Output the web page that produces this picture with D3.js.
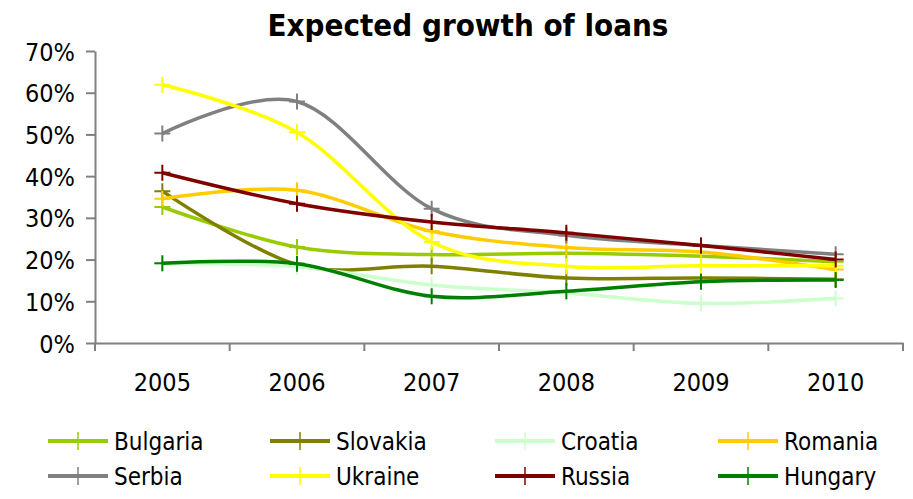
<!DOCTYPE html>
<html>
<head>
<meta charset="utf-8">
<script src="https://cdn.jsdelivr.net/npm/d3@7"></script>
<style>
  body { margin: 0; background: #fff; }
  text { font-family: "DejaVu Sans Condensed", "DejaVu Sans", sans-serif; font-stretch: condensed; }
</style>
</head>
<body>
<svg id="chart"></svg>
<script>
const width = 913;
const height = 499;
const margin = {left: 95, right: 10, top: 51, bottom: 156};

const years = ['2005', '2006', '2007', '2008', '2009', '2010'];
const countries = ['Bulgaria', 'Slovakia', 'Croatia', 'Romania', 'Serbia', 'Ukraine', 'Russia', 'Hungary'];
const colors = ['#99cc00', '#808000', '#ccffcc', '#ffcc00', '#808080', '#ffff00', '#800000', '#008000'];
const yTicks = [0, 10, 20, 30, 40, 50, 60, 70];

// percent values
const bulgaria = [32.6, 23.0, 21.2, 21.5, 20.8, 19.5];
const slovakia = [36.4, 18.8, 18.4, 15.6, 15.6, 15.3];
const croatia  = [19.0, 18.3, 13.9, 12.0, 9.5, 10.7];
const romania  = [34.6, 36.6, 26.8, 22.9, 21.8, 17.6];
const serbia   = [50.2, 57.9, 32.2, 25.8, 23.4, 21.3];
const ukraine  = [61.9, 50.5, 24.2, 18.4, 18.5, 18.5];
const russia   = [40.8, 33.4, 29.0, 26.4, 23.4, 20.0];
const hungary  = [19.1, 19.0, 11.2, 12.4, 14.7, 15.1];
const series = [bulgaria, slovakia, croatia, romania, serbia, ukraine, russia, hungary];

const svg = d3.select('#chart')
    .attr('width', width)
    .attr('height', height);

const x = d3.scaleBand()
    .domain(years)
    .range([margin.left, width - margin.right])
    .paddingInner(0)
    .paddingOuter(0);

const y = d3.scaleLinear()
    .domain([0, 70])
    .range([height - margin.bottom, margin.top]);

const cx = d => x(d) + x.bandwidth() / 2;

// title
svg.append('text')
    .attr('x', 468)
    .attr('y', 36)
    .attr('text-anchor', 'middle')
    .style('font-size', '31px')
    .style('font-weight', 'bold')
    .text('Expected growth of loans');

// y axis
const yAxis = svg.append('g')
    .attr('transform', `translate(${margin.left},0)`)
    .call(d3.axisLeft(y).tickValues(yTicks).tickFormat(d => d + '%')
        .tickSize(9).tickSizeOuter(0).tickPadding(11));
yAxis.selectAll('text').style('font-size', '25px').attr('fill', '#000').attr('dy', '0.36em');

// x axis: labels centered in bands, ticks on band edges
const xAxis = svg.append('g')
    .attr('transform', `translate(0,${y(0)})`)
    .call(d3.axisBottom(x).tickSize(0).tickSizeOuter(0).tickPadding(30));
xAxis.selectAll('text').style('font-size', '25px').attr('fill', '#000');

const edges = years.map(d => x(d)).concat([x.range()[1]]);
xAxis.selectAll('.edge')
    .data(edges)
    .enter().append('line')
        .attr('class', 'edge')
        .attr('x1', d => d).attr('x2', d => d)
        .attr('y1', 0).attr('y2', 8);

svg.selectAll('.domain, .tick line, .edge')
    .attr('stroke', '#808080')
    .attr('stroke-width', 2);

// lines
const line = d3.line()
    .x((d, i) => cx(years[i]))
    .y(d => y(d))
    .curve(d3.curveCatmullRom.alpha(0));

const groups = svg.selectAll('.series')
    .data(series)
    .enter().append('g')
        .attr('class', 'series');

groups.append('path')
    .attr('d', d => line(d))
    .attr('fill', 'none')
    .attr('stroke', (d, i) => colors[i])
    .attr('stroke-width', 3.5)
    .attr('stroke-linejoin', 'round');

const m = 8;
groups.each(function (vals, k) {
    const g = d3.select(this);
    g.selectAll('.mark')
        .data(vals)
        .enter().append('path')
            .attr('class', 'mark')
            .attr('d', (d, i) => {
                const px = cx(years[i]), py = y(d);
                return `M${px - m},${py}H${px + m}M${px},${py - m}V${py + m}`;
            })
            .attr('stroke', colors[k])
            .attr('stroke-width', 2);
});

// legend
const legendCols = [48, 270, 495, 718];
const legendRows = [441, 476];
const legend = svg.selectAll('.legend')
    .data(countries)
    .enter().append('g')
        .attr('class', 'legend')
        .attr('transform', (d, i) => `translate(${legendCols[i % 4]},${legendRows[Math.floor(i / 4)]})`);

legend.append('line')
    .attr('x1', 0).attr('x2', 60)
    .attr('y1', 0).attr('y2', 0)
    .attr('stroke', (d, i) => colors[i])
    .attr('stroke-width', 4);
legend.append('line')
    .attr('x1', 30).attr('x2', 30)
    .attr('y1', -9).attr('y2', 9)
    .attr('stroke', (d, i) => colors[i])
    .attr('stroke-width', 1.5);
legend.append('text')
    .attr('x', 66)
    .attr('y', 0)
    .attr('dy', '0.36em')
    .style('font-size', '24px')
    .text(d => d);
</script>
</body>
</html>
